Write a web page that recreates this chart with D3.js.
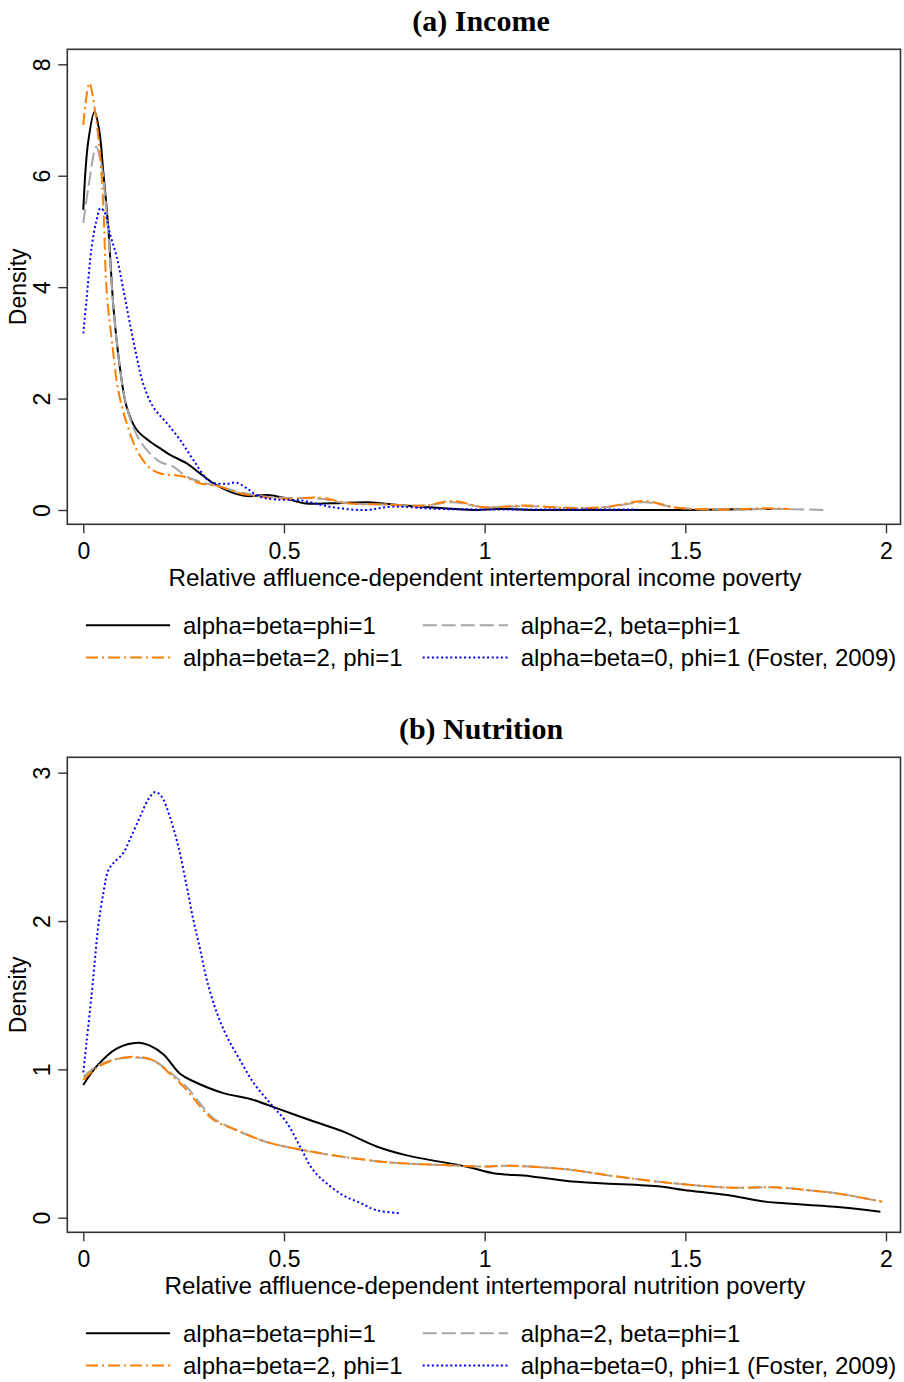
<!DOCTYPE html>
<html>
<head>
<meta charset="utf-8">
<script src="https://cdn.jsdelivr.net/npm/d3@7"></script>
<style>
html,body{margin:0;padding:0;background:#fff;}
svg{display:block;}
</style>
</head>
<body>
<svg id="chart" width="904" height="1382"></svg>
<script>
// ---------- DATA ----------
const xTicks = [0, 0.5, 1, 1.5, 2];
const incomeYTicks = [0, 2, 4, 6, 8];
const nutritionYTicks = [0, 1, 2, 3];
const seriesLabels = ["alpha=beta=phi=1", "alpha=2, beta=phi=1", "alpha=beta=2, phi=1", "alpha=beta=0, phi=1 (Foster, 2009)"];

// (a) Income
const incA_x = [0, 0.012, 0.028, 0.04, 0.05, 0.062, 0.075, 0.091, 0.108, 0.133, 0.166, 0.191, 0.216, 0.257, 0.29, 0.324, 0.365, 0.407, 0.457, 0.5, 0.55, 0.62, 0.71, 0.77, 0.88, 0.97, 1.03, 1.14, 1.29, 1.5, 1.72];
const incA_y = [5.39, 6.6, 7.15, 6.8, 6.05, 5.09, 3.65, 2.57, 1.85, 1.44, 1.23, 1.11, 0.99, 0.84, 0.66, 0.48, 0.33, 0.25, 0.27, 0.22, 0.12, 0.12, 0.14, 0.1, 0.04, 0.0, 0.02, 0.0, 0.0, 0.0, 0.02];
const incB_x = [0, 0.015, 0.032, 0.045, 0.055, 0.065, 0.075, 0.091, 0.108, 0.133, 0.158, 0.19, 0.224, 0.257, 0.29, 0.34, 0.39, 0.44, 0.5, 0.59, 0.66, 0.75, 0.85, 0.92, 1.0, 1.1, 1.2, 1.3, 1.4, 1.48, 1.6, 1.7, 1.85];
const incB_y = [5.15, 5.9, 6.52, 6.2, 5.6, 4.7, 3.65, 2.57, 1.85, 1.35, 1.08, 0.87, 0.78, 0.6, 0.51, 0.42, 0.32, 0.25, 0.22, 0.2, 0.12, 0.1, 0.08, 0.14, 0.05, 0.07, 0.04, 0.05, 0.14, 0.04, 0.01, 0.02, 0.0];
const incC_x = [0, 0.015, 0.029, 0.042, 0.05, 0.058, 0.071, 0.087, 0.108, 0.133, 0.162, 0.19, 0.216, 0.249, 0.29, 0.34, 0.39, 0.44, 0.5, 0.59, 0.66, 0.75, 0.85, 0.92, 1.0, 1.1, 1.2, 1.3, 1.4, 1.48, 1.6, 1.7, 1.76];
const incC_y = [6.91, 7.66, 7.18, 6.34, 5.45, 3.95, 3.05, 2.15, 1.56, 1.08, 0.78, 0.66, 0.63, 0.6, 0.48, 0.42, 0.3, 0.24, 0.2, 0.22, 0.12, 0.1, 0.08, 0.16, 0.05, 0.08, 0.04, 0.05, 0.16, 0.04, 0.01, 0.03, 0.02];
const incD_x = [0, 0.008, 0.021, 0.033, 0.043, 0.054, 0.066, 0.083, 0.1, 0.116, 0.133, 0.149, 0.174, 0.208, 0.241, 0.274, 0.316, 0.357, 0.382, 0.407, 0.44, 0.48, 0.545, 0.62, 0.70, 0.77, 0.88, 1.0, 1.2, 1.38];
const incD_y = [3.17, 3.77, 4.73, 5.2, 5.42, 5.33, 4.97, 4.55, 3.95, 3.35, 2.75, 2.27, 1.85, 1.56, 1.26, 0.9, 0.51, 0.47, 0.49, 0.39, 0.24, 0.19, 0.17, 0.05, 0.0, 0.06, 0.02, 0.01, 0.01, 0.01];

// (b) Nutrition
const nutA_x = [0, 0.033, 0.083, 0.137, 0.166, 0.2, 0.241, 0.274, 0.349, 0.416, 0.49, 0.573, 0.648, 0.731, 0.806, 0.956, 1.022, 1.113, 1.205, 1.288, 1.438, 1.496, 1.604, 1.687, 1.729, 1.887, 1.986];
const nutA_y = [0.895, 1.02, 1.14, 1.18, 1.16, 1.10, 0.97, 0.92, 0.84, 0.80, 0.73, 0.65, 0.58, 0.48, 0.42, 0.344, 0.30, 0.28, 0.247, 0.232, 0.21, 0.187, 0.153, 0.113, 0.10, 0.07, 0.04];
const nutB_x = [0, 0.033, 0.083, 0.133, 0.174, 0.216, 0.258, 0.291, 0.324, 0.382, 0.457, 0.54, 0.648, 0.773, 0.897, 0.989, 1.063, 1.205, 1.33, 1.496, 1.62, 1.72, 1.80, 1.887, 1.99];
const nutB_y = [0.95, 1.02, 1.07, 1.08, 1.06, 0.98, 0.88, 0.77, 0.67, 0.59, 0.51, 0.46, 0.41, 0.37, 0.355, 0.345, 0.35, 0.326, 0.277, 0.225, 0.202, 0.205, 0.187, 0.16, 0.108];
const nutC_x = [0, 0.033, 0.083, 0.133, 0.174, 0.216, 0.258, 0.291, 0.324, 0.382, 0.457, 0.54, 0.648, 0.773, 0.897, 0.989, 1.063, 1.205, 1.33, 1.496, 1.62, 1.72, 1.80, 1.887, 1.99];
const nutC_y = [0.93, 1.01, 1.07, 1.085, 1.06, 0.97, 0.86, 0.75, 0.66, 0.59, 0.51, 0.46, 0.41, 0.37, 0.355, 0.345, 0.35, 0.326, 0.277, 0.225, 0.202, 0.205, 0.187, 0.16, 0.108];
const nutD_x = [0, 0.008, 0.021, 0.029, 0.037, 0.05, 0.062, 0.075, 0.1, 0.116, 0.141, 0.162, 0.179, 0.195, 0.216, 0.237, 0.258, 0.274, 0.291, 0.308, 0.333, 0.358, 0.391, 0.424, 0.466, 0.507, 0.54, 0.573, 0.607, 0.648, 0.69, 0.731, 0.79];
const nutD_y = [0.98, 1.18, 1.51, 1.74, 1.96, 2.19, 2.34, 2.39, 2.46, 2.55, 2.70, 2.82, 2.87, 2.84, 2.70, 2.50, 2.23, 2.01, 1.81, 1.60, 1.38, 1.22, 1.06, 0.91, 0.77, 0.64, 0.48, 0.32, 0.23, 0.15, 0.10, 0.05, 0.03];

// ---------- STYLE ----------
const styles = [
  {color: "#000000", dash: null,       width: 2},
  {color: "#a6a6a6", dash: "14,5",     width: 2},
  {color: "#ff7f00", dash: "12,4,2,4", width: 2},
  {color: "#0000ff", dash: "2,2.6",    width: 2}
];

const zip = (xs, ys) => xs.map((x, i) => ({x, y: ys[i]}));

const panels = [
  {
    title: "(a) Income",
    xLabel: "Relative affluence-dependent intertemporal income poverty",
    yTicks: incomeYTicks, yMax: 8, top: 49.3,
    yPix0: 510, yPixMax: 64.3,
    series: [zip(incA_x, incA_y), zip(incB_x, incB_y), zip(incC_x, incC_y), zip(incD_x, incD_y)]
  },
  {
    title: "(b) Nutrition",
    xLabel: "Relative affluence-dependent intertemporal nutrition poverty",
    yTicks: nutritionYTicks, yMax: 3, top: 757.3,
    yPix0: 1217.7, yPixMax: 772.7,
    series: [zip(nutA_x, nutA_y), zip(nutB_x, nutB_y), zip(nutC_x, nutC_y), zip(nutD_x, nutD_y)]
  }
];

const svg = d3.select("#chart");
const sans = "'Liberation Sans', Arial, Helvetica, sans-serif";
const serif = "'Liberation Serif', 'Times New Roman', serif";

const frameL = 67.3, frameR = 900.5, frameH = 475;
const x = d3.scaleLinear().domain([0, 2]).range([83.3, 886]);

panels.forEach(p => {
  const frameT = p.top, frameB = p.top + frameH;
  const y = d3.scaleLinear().domain([0, p.yMax]).range([p.yPix0, p.yPixMax]);
  const g = svg.append("g");

  // title
  g.append("text")
    .attr("x", 481).attr("y", frameT - 18.5)
    .attr("text-anchor", "middle")
    .style("font-family", serif).style("font-weight", "bold").style("font-size", "30px")
    .text(p.title);

  // frame
  g.append("rect")
    .attr("x", frameL).attr("y", frameT)
    .attr("width", frameR - frameL).attr("height", frameH)
    .attr("fill", "none").attr("stroke", "#333").attr("stroke-width", 1.6);

  // x axis
  const xAxis = g.append("g").attr("transform", `translate(0,${frameB})`)
    .call(d3.axisBottom(x).tickValues(xTicks).tickSize(9).tickSizeOuter(0).tickFormat(d => String(d)));
  xAxis.select(".domain").remove();
  xAxis.selectAll(".tick line").attr("stroke", "#333").attr("stroke-width", 1.4);
  xAxis.selectAll(".tick text")
    .attr("y", 35).attr("dy", 0)
    .style("font-family", sans).style("font-size", "23px").attr("fill", "#000");

  // y axis
  const yAxis = g.append("g").attr("transform", `translate(${frameL},0)`)
    .call(d3.axisLeft(y).tickValues(p.yTicks).tickSize(9).tickSizeOuter(0).tickFormat(d => String(d)));
  yAxis.select(".domain").remove();
  yAxis.selectAll(".tick line").attr("stroke", "#333").attr("stroke-width", 1.4);
  yAxis.selectAll(".tick text")
    .attr("x", 0).attr("y", 0).attr("dy", 0)
    .attr("text-anchor", "middle")
    .attr("transform", "translate(-17.3,0) rotate(-90)")
    .style("font-family", sans).style("font-size", "23px").attr("fill", "#000");

  // axis titles
  g.append("text")
    .attr("x", 485).attr("y", frameB + 62)
    .attr("text-anchor", "middle")
    .style("font-family", sans).style("font-size", "24.2px")
    .text(p.xLabel);
  g.append("text")
    .attr("transform", `translate(26,${frameT + frameH / 2}) rotate(-90)`)
    .attr("text-anchor", "middle")
    .style("font-family", sans).style("font-size", "23px")
    .text("Density");

  // curves
  const line = d3.line().x(d => x(d.x)).y(d => y(d.y)).curve(d3.curveCatmullRom.alpha(0.5));
  p.series.forEach((s, i) => {
    const st = styles[i];
    g.append("path")
      .datum(s)
      .attr("d", line)
      .attr("fill", "none")
      .attr("stroke", st.color)
      .attr("stroke-width", st.width)
      .attr("stroke-dasharray", st.dash)
      .attr("stroke-linejoin", "round");
  });

  // legend
  const legTop = frameB + 101;
  const legPos = [
    {lx1: 86, lx2: 170, tx: 183, row: 0},
    {lx1: 422.7, lx2: 508, tx: 520.7, row: 0},
    {lx1: 86, lx2: 170, tx: 183, row: 1},
    {lx1: 422.7, lx2: 508, tx: 520.7, row: 1}
  ];
  seriesLabels.forEach((lab, i) => {
    const lp = legPos[i], st = styles[i];
    const ly = legTop + lp.row * 32.3;
    g.append("line")
      .attr("x1", lp.lx1).attr("x2", lp.lx2).attr("y1", ly).attr("y2", ly)
      .attr("stroke", st.color).attr("stroke-width", st.width)
      .attr("stroke-dasharray", st.dash);
    g.append("text")
      .attr("x", lp.tx).attr("y", ly + 8.5)
      .style("font-family", sans).style("font-size", "24px")
      .text(lab);
  });
});
</script>
</body>
</html>
